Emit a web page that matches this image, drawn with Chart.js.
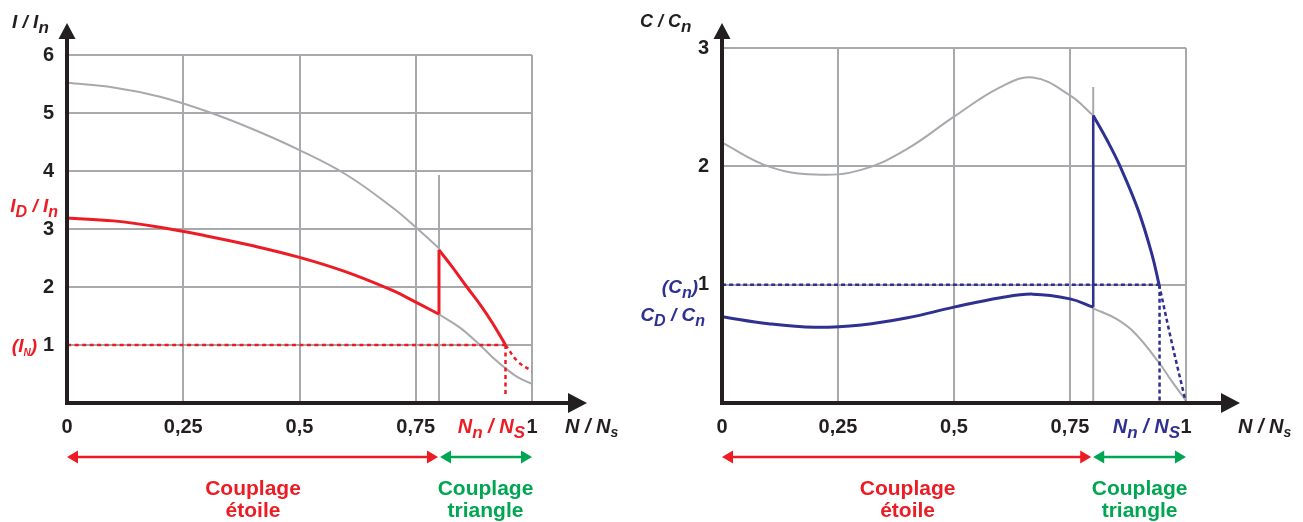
<!DOCTYPE html>
<html>
<head>
<meta charset="utf-8">
<script src="https://cdn.jsdelivr.net/npm/chart.js@4.4.0/dist/chart.umd.min.js"></script>
<style>
    html, body { margin: 0; padding: 0; background: #fff; }
    #wrap  { position: relative; width: 1303px; height: 522px; overflow: hidden; }
    .box   { position: absolute; top: 0; height: 522px; }
    #left  { left: 0;     width: 630px; }
    #right { left: 630px; width: 673px; }
</style>
</head>
<body>
<div id="wrap">
    <div class="box" id="left"><canvas id="currentChart" width="630" height="522"></canvas></div>
    <div class="box" id="right"><canvas id="torqueChart" width="673" height="522"></canvas></div>
</div>
<script>
// ─── Data ──────────────────────────────────

const speedTicks  = [0, 0.25, 0.5, 0.75, 1];
const switchSpeed = 0.8;     // star -> delta
const ratedSpeed  = 0.943;   // Nn / Ns

// current I / In
const currentTicks       = [0, 1, 2, 3, 4, 5, 6];
const currentDeltaX      = [0, 0.1, 0.2, 0.3, 0.4, 0.5, 0.6, 0.7, 0.75, 0.8];
const currentDeltaY      = [5.52, 5.44, 5.28, 5.03, 4.72, 4.36, 3.94, 3.37, 3.03, 2.67];
const currentStarX       = [0, 0.1, 0.2, 0.3, 0.4, 0.5, 0.6, 0.7, 0.75, 0.8];
const currentStarY       = [3.19, 3.14, 3.03, 2.88, 2.71, 2.51, 2.26, 1.94, 1.74, 1.53];
const currentStarTailX   = [0.8, 0.845, 0.888, 0.915, 0.943, 0.97, 1.0];
const currentStarTailY   = [1.53, 1.30, 1.0, 0.79, 0.6, 0.44, 0.33];
const currentDeltaRunX   = [0.8, 0.83, 0.86, 0.89, 0.915, 0.943];
const currentDeltaRunY   = [2.64, 2.33, 2.0, 1.68, 1.38, 1.0];
const currentOverX       = [0.943, 0.97, 1.0];
const currentOverY       = [1.0, 0.71, 0.55];
const currentRated       = 1;
const currentSwitchTop   = 3.93;
const currentRatedFoot   = 0.14;

// torque C / Cn
const torqueTicks        = [0, 1, 2, 3];
const torqueDeltaX       = [0, 0.1, 0.2, 0.3, 0.4, 0.5, 0.6, 0.67, 0.75, 0.8];
const torqueDeltaY       = [2.2, 2.0, 1.93, 1.97, 2.15, 2.42, 2.67, 2.75, 2.6, 2.43];
const torqueStarX        = [0, 0.1, 0.2, 0.3, 0.4, 0.5, 0.6, 0.67, 0.75, 0.8];
const torqueStarY        = [0.73, 0.67, 0.64, 0.66, 0.72, 0.81, 0.89, 0.92, 0.88, 0.81];
const torqueStarTailX    = [0.8, 0.85, 0.89, 0.942, 0.97, 1.0];
const torqueStarTailY    = [0.80, 0.71, 0.59, 0.34, 0.18, 0.02];
const torqueDeltaRunX    = [0.8, 0.83, 0.858, 0.897, 0.927, 0.942];
const torqueDeltaRunY    = [2.43, 2.22, 2.0, 1.63, 1.25, 1.0];
const torqueOverX        = [0.942, 0.97, 1.0];
const torqueOverY        = [1.0, 0.5, 0.0];
const torqueRated        = 1;
const torqueSwitchTop    = 2.67;

// ─── Style ─────────────────────────────────

const GREY  = '#a7a9ac';
const RED   = '#ed1c24';
const BLUE  = '#2e3192';
const GREEN = '#00a651';
const INK   = '#231f20';
const FONT  = "'Liberation Sans', Arial, sans-serif";
const TICK_FONT = { family: FONT, size: 20, weight: 'bold' };

// ─── Helpers ───────────────────────────────

const pts = (xs, ys) => xs.map((x, i) => ({ x, y: ys[i] }));

function curve(data, color, width, order, extra = {}) {
    return {
        data, order,
        showLine: true,
        borderColor: color,
        borderWidth: width,
        pointRadius: 0,
        fill: false,
        tension: 0.4,
        ...extra
    };
}

// parts: [text, size, dy]
function rich(ctx, parts, x, y, align, color) {
    ctx.save();
    ctx.fillStyle = color;
    ctx.textAlign = 'left';
    ctx.textBaseline = 'alphabetic';
    let total = 0;
    const widths = parts.map(([t, s]) => {
        ctx.font = `italic bold ${s}px ${FONT}`;
        const w = ctx.measureText(t).width;
        total += w;
        return w;
    });
    let cx = align === 'right' ? x - total : align === 'center' ? x - total / 2 : x;
    parts.forEach(([t, s, dy], i) => {
        ctx.font = `italic bold ${s}px ${FONT}`;
        ctx.fillText(t, cx, y + (dy || 0));
        cx += widths[i];
    });
    ctx.restore();
}

function caption(ctx, lines, x, y, color) {
    ctx.save();
    ctx.fillStyle = color;
    ctx.font = `bold 21px ${FONT}`;
    ctx.textAlign = 'center';
    ctx.textBaseline = 'alphabetic';
    lines.forEach((t, i) => ctx.fillText(t, x, y + i * 22));
    ctx.restore();
}

function doubleArrow(ctx, x1, x2, y, color) {
    const head = 11, half = 6.5;
    ctx.save();
    ctx.strokeStyle = color;
    ctx.fillStyle = color;
    ctx.lineWidth = 2.5;
    ctx.beginPath();
    ctx.moveTo(x1 + head - 1, y);
    ctx.lineTo(x2 - head + 1, y);
    ctx.stroke();
    ctx.beginPath();
    ctx.moveTo(x1, y); ctx.lineTo(x1 + head, y - half); ctx.lineTo(x1 + head, y + half);
    ctx.closePath(); ctx.fill();
    ctx.beginPath();
    ctx.moveTo(x2, y); ctx.lineTo(x2 - head, y - half); ctx.lineTo(x2 - head, y + half);
    ctx.closePath(); ctx.fill();
    ctx.restore();
}

// black axes with arrow heads, drawn over the grid and curves
const axesPlugin = {
    id: 'axes',
    afterDatasetsDraw(chart, args, opts) {
        const { ctx, chartArea: a } = chart;
        const xTip = a.right + opts.xReach;
        const yTip = opts.yTip;
        ctx.save();
        ctx.strokeStyle = INK;
        ctx.fillStyle = INK;
        ctx.lineWidth = 4;
        ctx.lineJoin = 'miter';
        ctx.beginPath();
        ctx.moveTo(a.left, yTip + 14);
        ctx.lineTo(a.left, a.bottom);
        ctx.lineTo(xTip - 16, a.bottom);
        ctx.stroke();
        ctx.beginPath();
        ctx.moveTo(a.left, yTip); ctx.lineTo(a.left - 8.5, yTip + 16); ctx.lineTo(a.left + 8.5, yTip + 16);
        ctx.closePath(); ctx.fill();
        ctx.beginPath();
        ctx.moveTo(xTip, a.bottom); ctx.lineTo(xTip - 19, a.bottom - 10); ctx.lineTo(xTip - 19, a.bottom + 10);
        ctx.closePath(); ctx.fill();
        ctx.restore();
    }
};

function options(cfg) {
    return {
        responsive: false,
        animation: false,
        events: [],
        layout: { padding: cfg.padding },
        plugins: {
            legend: { display: false },
            tooltip: { enabled: false },
            axes: cfg.axes
        },
        scales: {
            x: {
                type: 'linear',
                min: speedTicks[0],
                max: speedTicks[speedTicks.length - 1],
                afterFit: s => { s.height = 40; },
                afterBuildTicks: s => { s.ticks = speedTicks.map(v => ({ value: v })); },
                ticks: {
                    padding: 12, color: INK, font: TICK_FONT,
                    autoSkip: false, maxRotation: 0,
                    callback: v => String(v).replace('.', ',')
                },
                grid:   { color: GREY, lineWidth: 2, drawTicks: false },
                border: { display: false }
            },
            y: {
                type: 'linear',
                min: cfg.yTicks[0],
                max: cfg.yTicks[cfg.yTicks.length - 1],
                afterFit: s => { s.width = cfg.yWidth; },
                afterBuildTicks: s => { s.ticks = cfg.yTicks.map(v => ({ value: v })); },
                ticks: {
                    padding: 13, color: INK, font: TICK_FONT,
                    callback: v => v === 0 ? '' : String(v)
                },
                grid:   { color: GREY, lineWidth: 2, drawTicks: false },
                border: { display: false }
            }
        }
    };
}

// ─── Current chart ─────────────────────────

new Chart(document.getElementById('currentChart'), {
    type: 'scatter',
    data: {
        datasets: [
            curve(pts(currentStarX, currentStarY), RED, 3, 0),
            curve(pts([switchSpeed, switchSpeed], [currentStarY[currentStarY.length - 1], currentDeltaRunY[0]]), RED, 3, 0),
            curve(pts(currentDeltaRunX, currentDeltaRunY), RED, 3, 0),
            curve(pts(currentOverX, currentOverY), RED, 2.5, 1, { borderDash: [4, 3.5] }),
            curve(pts([0, ratedSpeed], [currentRated, currentRated]), RED, 2.5, 1, { borderDash: [4, 3.5] }),
            curve(pts([ratedSpeed, ratedSpeed], [currentRated, currentRatedFoot]), RED, 2.5, 1, { borderDash: [4, 3.5] }),
            curve(pts(currentDeltaX, currentDeltaY), GREY, 2, 2),
            curve(pts(currentStarTailX, currentStarTailY), GREY, 2, 2),
            curve(pts([switchSpeed, switchSpeed], [0, currentSwitchTop]), GREY, 2, 2)
        ]
    },
    options: options({
        padding: { left: 0, top: 55, right: 98, bottom: 79 },
        yWidth: 67,
        yTicks: currentTicks,
        axes: { xReach: 55, yTip: 23 }
    }),
    plugins: [axesPlugin, {
        id: 'currentNotes',
        afterDraw(chart) {
            const { ctx, chartArea: a } = chart;
            const x = chart.scales.x, y = chart.scales.y;
            const x0 = x.getPixelForValue(0), xs = x.getPixelForValue(switchSpeed), x1 = x.getPixelForValue(1);
            rich(ctx, [['I / I', 19], ['n', 17, 5]], a.left - 55, 28, 'left', INK);
            rich(ctx, [['I', 19], ['D', 16, 5], [' / I', 19], ['n', 16, 5]], a.left - 9, y.getPixelForValue(currentStarY[0]) - 6, 'right', RED);
            rich(ctx, [['(I', 19], ['N', 10, 4], [')', 19]], a.left - 30, y.getPixelForValue(currentRated) + 7, 'right', RED);
            rich(ctx, [['N', 20], ['n', 17, 5], [' / N', 20], ['S', 17, 5]], x1 - 7, 433, 'right', RED);
            rich(ctx, [['N / N', 20], ['s', 14, 4]], x1 + 33, 433, 'left', INK);
            doubleArrow(ctx, x0, xs - 1, 457, RED);
            doubleArrow(ctx, xs + 1, x1, 457, GREEN);
            caption(ctx, ['Couplage', 'étoile'], (x0 + xs) / 2, 495, RED);
            caption(ctx, ['Couplage', 'triangle'], (xs + x1) / 2, 495, GREEN);
        }
    }]
});

// ─── Torque chart ──────────────────────────

new Chart(document.getElementById('torqueChart'), {
    type: 'scatter',
    data: {
        datasets: [
            curve(pts(torqueStarX, torqueStarY), BLUE, 3, 0),
            curve(pts([switchSpeed, switchSpeed], [torqueStarY[torqueStarY.length - 1], torqueDeltaRunY[0]]), BLUE, 2.5, 0),
            curve(pts(torqueDeltaRunX, torqueDeltaRunY), BLUE, 3, 0),
            curve(pts(torqueOverX, torqueOverY), BLUE, 2.5, 1, { borderDash: [4, 3] }),
            curve(pts([0, ratedSpeed], [torqueRated, torqueRated]), BLUE, 2.5, 1, { borderDash: [4, 3] }),
            curve(pts([ratedSpeed, ratedSpeed], [torqueRated, 0]), BLUE, 2.5, 1, { borderDash: [4, 3] }),
            curve(pts(torqueDeltaX, torqueDeltaY), GREY, 2, 2),
            curve(pts(torqueStarTailX, torqueStarTailY), GREY, 2, 2),
            curve(pts([switchSpeed, switchSpeed], [0, torqueSwitchTop]), GREY, 2, 2)
        ]
    },
    options: options({
        padding: { left: 0, top: 48, right: 117, bottom: 79 },
        yWidth: 92,
        yTicks: torqueTicks,
        axes: { xReach: 54, yTip: 23 }
    }),
    plugins: [axesPlugin, {
        id: 'torqueNotes',
        afterDraw(chart) {
            const { ctx, chartArea: a } = chart;
            const x = chart.scales.x, y = chart.scales.y;
            const x0 = x.getPixelForValue(0), xs = x.getPixelForValue(switchSpeed), x1 = x.getPixelForValue(1);
            rich(ctx, [['C / C', 18], ['n', 17, 5]], a.left - 82, 27, 'left', INK);
            rich(ctx, [['(C', 19], ['n', 16, 5], [')', 19]], a.left - 24, y.getPixelForValue(torqueRated) + 8, 'right', BLUE);
            rich(ctx, [['C', 19], ['D', 16, 5], [' / C', 19], ['n', 16, 5]], a.left - 17, y.getPixelForValue(torqueStarY[0]) + 4, 'right', BLUE);
            rich(ctx, [['N', 20], ['n', 17, 5], [' / N', 20], ['S', 17, 5]], x1 - 6, 433, 'right', BLUE);
            rich(ctx, [['N / N', 20], ['s', 14, 4]], x1 + 52, 433, 'left', INK);
            doubleArrow(ctx, x0, xs - 2, 457, RED);
            doubleArrow(ctx, xs, x1, 457, GREEN);
            caption(ctx, ['Couplage', 'étoile'], (x0 + xs) / 2, 495, RED);
            caption(ctx, ['Couplage', 'triangle'], (xs + x1) / 2, 495, GREEN);
        }
    }]
});
</script>
</body>
</html>
